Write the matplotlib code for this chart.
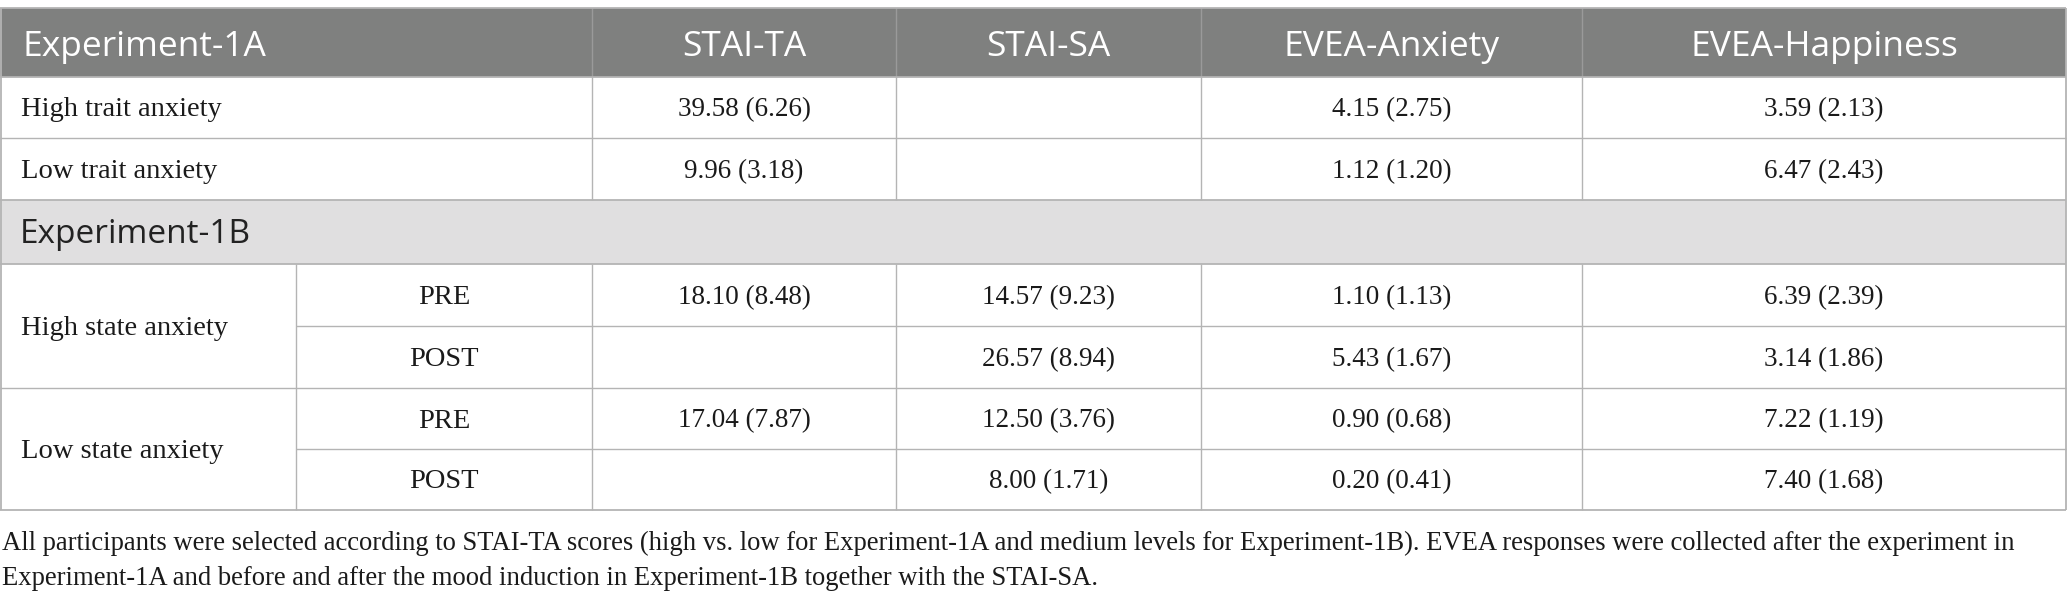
import matplotlib
matplotlib.use("Agg")
import matplotlib.pyplot as plt
from matplotlib.patches import Rectangle

# ---- table content ----
col_headers = ["STAI-TA", "STAI-SA", "EVEA-Anxiety", "EVEA-Happiness"]
exp1a_title = "Experiment-1A"
exp1b_title = "Experiment-1B"

exp1a_groups = ["High trait anxiety", "Low trait anxiety"]
exp1a_means = [[39.58, None, 4.15, 3.59],
               [9.96, None, 1.12, 6.47]]
exp1a_sds = [[6.26, None, 2.75, 2.13],
             [3.18, None, 1.20, 2.43]]

exp1b_groups = ["High state anxiety", "Low state anxiety"]
exp1b_phases = ["PRE", "POST"]
exp1b_means = [[18.10, 14.57, 1.10, 6.39],
               [None, 26.57, 5.43, 3.14],
               [17.04, 12.50, 0.90, 7.22],
               [None, 8.00, 0.20, 7.40]]
exp1b_sds = [[8.48, 9.23, 1.13, 2.39],
             [None, 8.94, 1.67, 1.86],
             [7.87, 3.76, 0.68, 1.19],
             [None, 1.71, 0.41, 1.68]]

footnote = ["All participants were selected according to STAI-TA scores (high vs. low for Experiment-1A "
            "and medium levels for Experiment-1B). EVEA responses were collected after the experiment in",
            "Experiment-1A and before and after the mood induction in Experiment-1B together with the STAI-SA."]

# ---- layout (pixels) ----
W, H = 2067, 604
col_x = [0, 296, 592, 896, 1201, 1582, 2066]
top = 8
head_b = 77
r1a = [77, 138, 200]
sec_b = 264
r1b = [264, 326, 388, 449, 510]

HEAD_BG = "#7f807f"
SEC_BG = "#e0dfe0"
LINE = "#b4b4b4"
SANS = ["Open Sans", "DejaVu Sans"]
SERIF = ["Liberation Serif", "DejaVu Serif"]
HEAD_FS = 25.5
SEC_FS = 24
LABEL_FS = 20.5
BODY_FS = 19.5
NOTE_FS = 19.2
TXT = "#1a1a1a"


def fmt(m, s):
    if m is None:
        return ""
    return f"{m:.2f} ({s:.2f})"


fig = plt.figure(figsize=(W / 100, H / 100), dpi=100)
ax = fig.add_axes([0, 0, 1, 1])
ax.set_xlim(0, W)
ax.set_ylim(H, 0)
ax.axis("off")

# backgrounds
ax.add_patch(Rectangle((0, top), col_x[-1], head_b - top, color=HEAD_BG, lw=0))
ax.add_patch(Rectangle((0, r1a[-1]), col_x[-1], sec_b - r1a[-1], color=SEC_BG, lw=0))

# header
ax.text(22, 56, exp1a_title, family=SANS, fontsize=HEAD_FS, color="white", va="baseline")
for j, h in enumerate(col_headers):
    xc = (col_x[j + 2] + col_x[j + 3]) / 2
    ax.text(xc, 56, h, family=SANS, fontsize=HEAD_FS, color="white", va="baseline", ha="center")
ax.vlines(col_x[2:6], top, head_b, color="#9a9a9a", lw=1.0)

# experiment 1A rows
for i, g in enumerate(exp1a_groups):
    y0, y1 = r1a[i], r1a[i + 1]
    yb = (y0 + y1) / 2 + 9
    ax.text(21, yb, g, family=SERIF, fontsize=LABEL_FS, color=TXT, va="baseline")
    for j in range(4):
        xc = (col_x[j + 2] + col_x[j + 3]) / 2
        ax.text(xc, yb, fmt(exp1a_means[i][j], exp1a_sds[i][j]), family=SERIF,
                fontsize=BODY_FS, color=TXT, va="baseline", ha="center")
ax.vlines(col_x[2:6], r1a[0], r1a[-1], color=LINE, lw=1.0)
ax.hlines(r1a[1], 0, col_x[-1], color=LINE, lw=1.0)

# experiment 1B section row
ax.text(20, (r1a[-1] + sec_b) / 2 + 11, exp1b_title, family=SANS, fontsize=SEC_FS,
        color="#222222", va="baseline")

# experiment 1B rows
for k, g in enumerate(exp1b_groups):
    yc = (r1b[2 * k] + r1b[2 * k + 2]) / 2
    ax.text(21, yc + 9, g, family=SERIF, fontsize=LABEL_FS, color=TXT, va="baseline")
for i in range(4):
    y0, y1 = r1b[i], r1b[i + 1]
    yb = (y0 + y1) / 2 + 9
    ax.text((col_x[1] + col_x[2]) / 2, yb, exp1b_phases[i % 2], family=SERIF,
            fontsize=LABEL_FS, color=TXT, va="baseline", ha="center")
    for j in range(4):
        xc = (col_x[j + 2] + col_x[j + 3]) / 2
        ax.text(xc, yb, fmt(exp1b_means[i][j], exp1b_sds[i][j]), family=SERIF,
                fontsize=BODY_FS, color=TXT, va="baseline", ha="center")
ax.vlines(col_x[1:6], r1b[0], r1b[-1], color=LINE, lw=1.0)
ax.hlines([r1b[1], r1b[3]], col_x[1], col_x[-1], color=LINE, lw=1.0)
ax.hlines(r1b[2], 0, col_x[-1], color=LINE, lw=1.0)

# outer / section lines
ax.hlines([top, head_b, r1a[-1], sec_b, r1b[-1]], 0, col_x[-1], color=LINE, lw=1.3)
ax.vlines([0.5, col_x[-1]], top, r1b[-1], color=LINE, lw=1.3)

# footnote
ax.text(2, 550, footnote[0], family=SERIF, fontsize=NOTE_FS, color=TXT, va="baseline")
ax.text(2, 585, footnote[1], family=SERIF, fontsize=NOTE_FS, color=TXT, va="baseline")

fig.savefig("out.png", dpi=100)
